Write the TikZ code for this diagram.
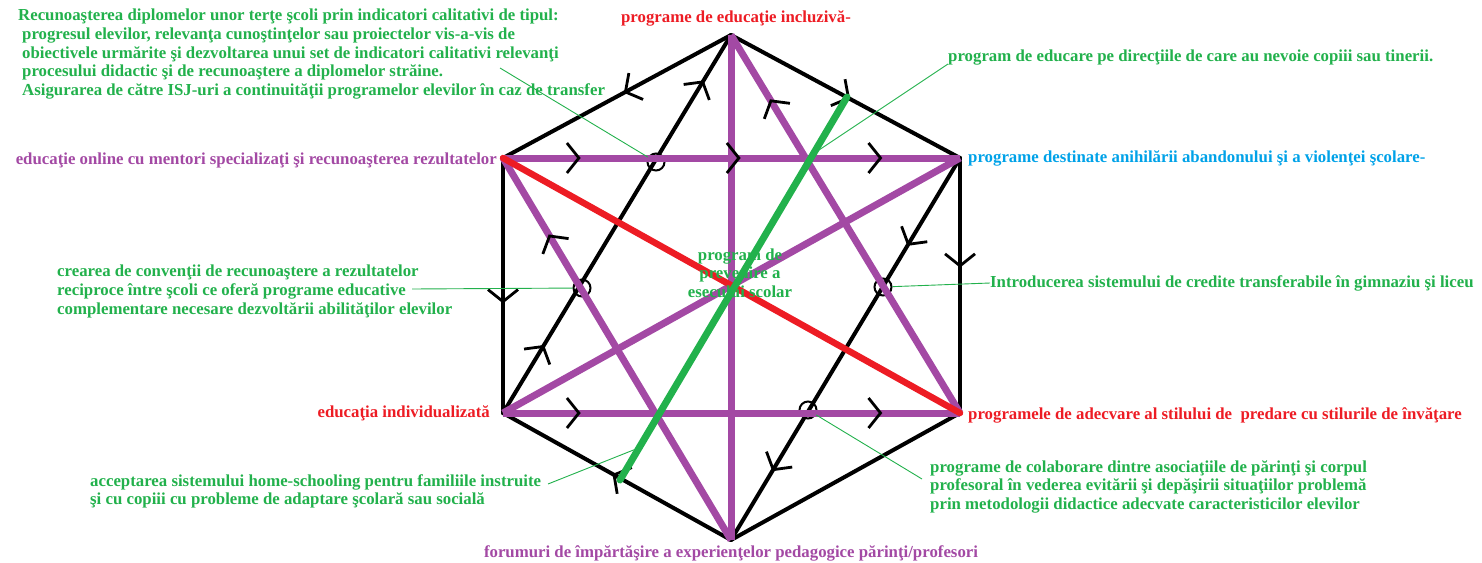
\documentclass[tikz,border=0pt]{standalone}
\usepackage{fontspec}
\setmainfont{Liberation Serif}
\usetikzlibrary{decorations.markings,arrows.meta}
\definecolor{pgreen}{RGB}{34,177,76}
\definecolor{pred}{RGB}{237,28,36}
\definecolor{ppurple}{RGB}{163,73,164}
\definecolor{pblue}{RGB}{0,162,232}
\begin{document}
\begin{tikzpicture}[x=1pt,y=-1pt,
 lbl/.style={font=\fontsize{16.8}{18.7}\selectfont\bfseries, inner sep=0pt},
 blk/.style={draw=black,line width=4pt,line cap=round,line join=round},
 pur/.style={draw=ppurple,line width=7pt},
 redl/.style={draw=pred,line width=6.5pt,line cap=round},
 grn/.style={draw=pgreen,line width=7pt,line cap=round},
 lead/.style={draw=pgreen,line width=0.9pt},
 arr/.style={postaction={decorate,decoration={markings,mark=at position #1 with {\arrow{Straight Barb[length=12pt,width=30pt,line width=2.8pt,color=black]}}}}},
 xcirc/.style={circle,draw=black,line width=2pt,minimum size=17pt,inner sep=0pt}
]
\useasboundingbox (0,0) rectangle (1482,562);
% vertices
\coordinate (T) at (731,35);
\coordinate (UR) at (960,158);
\coordinate (LR) at (960,413);
\coordinate (B) at (731,540);
\coordinate (LL) at (503,413);
\coordinate (UL) at (503,158);
% hexagon
\draw[blk,arr=0.47] (T) -- (UL);
\draw[blk,arr=0.52] (T) -- (UR);
\draw[blk,arr=0.57] (UL) -- (LL);
\draw[blk,arr=0.43] (UR) -- (LR);
\draw[blk,arr=0.52] (B) -- (LL);
\draw[blk] (LR) -- (B);
% inner black lines
\draw[blk,arr=0.18,arr=0.88] (LL) -- (T);
\draw[blk,arr=0.23,arr=0.82] (UR) -- (B);
% crossing circles
\node[xcirc] (c1) at (656,162) {};
\node[xcirc] (c2) at (582,288) {};
\node[xcirc] (c3) at (883,287) {};
\node[xcirc] (c4) at (808,410) {};
% purple lines
\draw[pur] (T) -- (B);
\draw[pur] (UR) -- (LL);
\draw[pur,arr=0.8] (B) -- (UL);
\draw[pur,arr=0.83] (LR) -- (T);
\draw[pur,arr=0.17,arr=0.52,arr=0.83] (UL) -- (UR);
\draw[pur,arr=0.17,arr=0.83] (LL) -- (LR);
% red and green
\draw[redl] (UL) -- (LR);
\coordinate (G1) at (847,97);
\coordinate (G2) at (620,480);
\draw[grn] (G1) -- (G2);
% labels
\node[lbl,text=pgreen,anchor=north west,align=left] (tl) at (18,9) {Recunoaşterea diplomelor unor terţe şcoli prin indicatori calitativi de tipul:\\
\hspace*{4pt}progresul elevilor, relevanţa cunoştinţelor sau proiectelor vis-a-vis de\\
\hspace*{4pt}obiectivele urmărite şi dezvoltarea unui set de indicatori calitativi relevanţi\\
\hspace*{4pt}procesului didactic şi de recunoaştere a diplomelor străine.\\
\hspace*{4pt}Asigurarea de către ISJ-uri a continuităţii programelor elevilor în caz de transfer};
\node[lbl,text=pred] (top) at (736,18) {programe de educaţie incluzivă-};
\node[lbl,text=pgreen,anchor=west] (gtop) at (948,58) {program de educare pe direcţiile de care au nevoie copiii sau tinerii.};
\node[lbl,text=pblue,anchor=west] (blue) at (968,158) {programe destinate anihilării abandonului şi a violenţei şcolare-};
\node[lbl,text=ppurple,anchor=east] (online) at (497,160) {educaţie online cu mentori specializaţi şi recunoaşterea rezultatelor};
\node[lbl,text=pgreen,align=center] (ctr) at (740,273) {program de\\prevenire a\\esecului scolar};
\node[lbl,text=pgreen,anchor=north west,align=left] (crea) at (57,265) {crearea de convenţii de recunoaştere a rezultatelor\\
reciproce între şcoli ce oferă programe educative\\
complementare necesare dezvoltării abilităţilor elevilor};
\node[lbl,text=pgreen,anchor=west] (intro) at (990,283) {Introducerea sistemului de credite transferabile în gimnaziu şi liceu};
\node[lbl,text=pred,anchor=east] (indiv) at (490,413) {educaţia individualizată};
\node[lbl,text=pred,anchor=west] (adec) at (968,415) {programele de adecvare al stilului de\ \ predare cu stilurile de învăţare};
\node[lbl,text=pgreen,anchor=north west,align=left] (home) at (90,474) {acceptarea sistemului home-schooling pentru familiile instruite\\
şi cu copiii cu probleme de adaptare şcolară sau socială};
\node[lbl,text=pgreen,anchor=north west,align=left] (colab) at (930,460) {programe de colaborare dintre asociaţiile de părinţi şi corpul\\
profesoral în vederea evitării şi depăşirii situaţiilor problemă\\
prin metodologii didactice adecvate caracteristicilor elevilor};
\node[lbl,text=ppurple] (forum) at (731,553) {forumuri de împărtăşire a experienţelor pedagogice părinţi/profesori};
% leader lines
\coordinate (l1) at (500,68);
\draw[lead] (l1) -- (c1);
\coordinate (l2a) at (948,64);
\coordinate (l2b) at (816,152);
\draw[lead] (l2a) -- (l2b);
\coordinate (l3) at (412,289);
\draw[lead] (l3) -- (c2);
\draw[lead] (c3) -- (intro.west);
\coordinate (l5) at (922,479);
\draw[lead] (l5) -- (c4);
\coordinate (l6a) at (548,484);
\coordinate (l6b) at (641,447);
\draw[lead] (l6a) -- (l6b);
\end{tikzpicture}
\end{document}
